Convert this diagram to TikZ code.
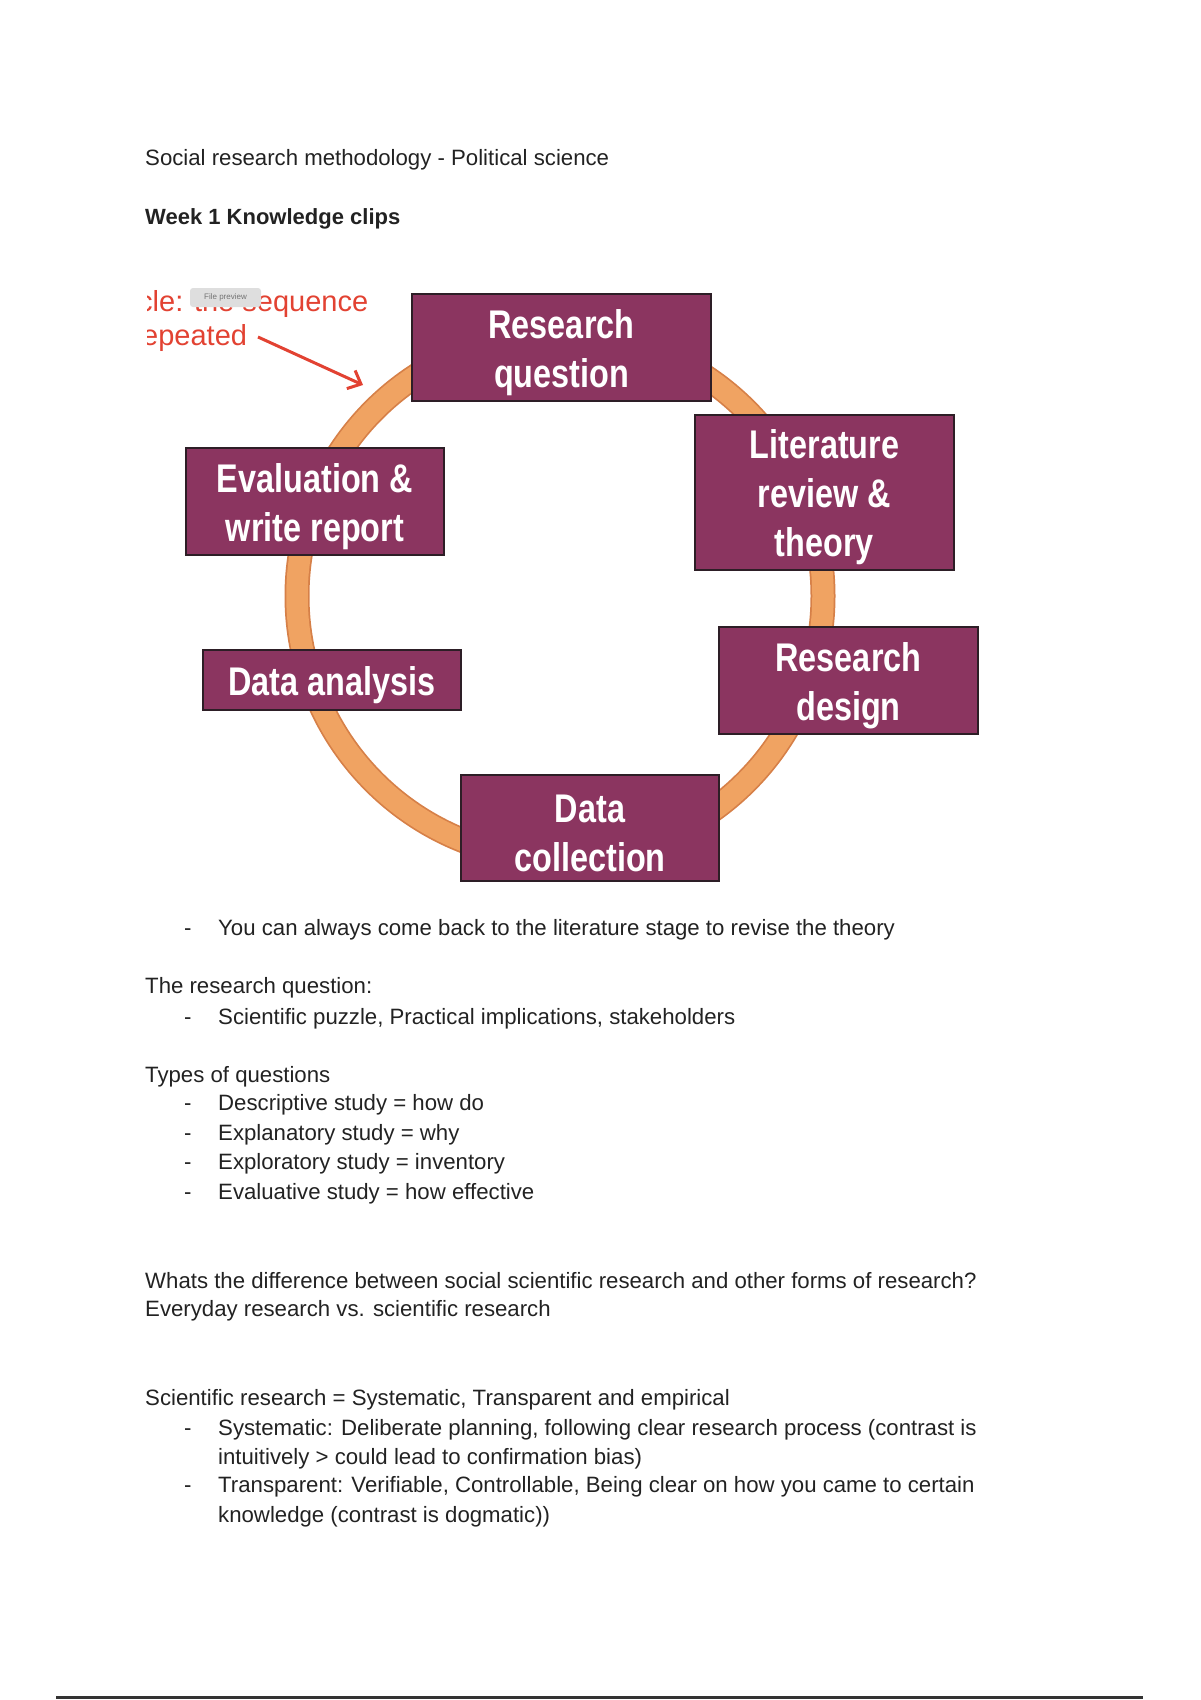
\documentclass[tikz,border=0pt]{standalone}
\usepackage{fontspec}
\setmainfont{Liberation Sans}
\newfontfamily\stagefont{Liberation Sans}[FakeStretch=0.81]
\usetikzlibrary{arrows.meta}

\definecolor{stageplum}{RGB}{139,53,96}
\definecolor{stageedge}{RGB}{45,30,38}
\definecolor{cycleorange}{RGB}{240,163,98}
\definecolor{cycleedge}{RGB}{214,128,72}
\definecolor{notered}{RGB}{226,66,50}
\definecolor{bodytext}{RGB}{34,34,34}

\tikzset{
  stagebox/.style={draw=stageedge, line width=1.5pt, fill=stageplum, inner sep=0pt},
  stagetext/.style={text=white, inner sep=0pt, align=center, yshift=-5pt,
    font=\stagefont\bfseries\fontsize{40}{49}\selectfont},
  bodyline/.style={anchor=base west, inner sep=0pt, text=bodytext, font=\fontsize{22.2}{26}\selectfont},
  notetext/.style={anchor=base west, inner sep=0pt, text=notered, font=\fontsize{29}{33}\selectfont},
}

\begin{document}
\begin{tikzpicture}[x=1pt,y=1pt,yscale=-1,xscale=1]
\useasboundingbox (0,0) rectangle (1200,1700);

% Text Node
\node[bodyline] (title) at (145,165) {Social research methodology - Political science};
% Text Node
\node[bodyline,font=\bfseries\fontsize{22}{26}\selectfont] (week) at (145,224) {Week 1 Knowledge clips};

%Shape: Circle [cycle ring]
\draw[cycleedge, line width=25pt] (560,596) circle [radius=263pt];
\draw[cycleorange, line width=21.5pt] (560,596) circle [radius=263pt];

%Shape: Rectangle [stages]
\node[stagebox, minimum width=299pt, minimum height=107pt] (rq) at (561.5,347.5) {};
\node[stagetext] (rqtext) at (rq) {Research\\question};
\node[stagebox, minimum width=259pt, minimum height=155pt] (lit) at (824.5,492.5) {};
\node[stagetext] (littext) at (lit) {Literature\\review \&\\theory};
\node[stagebox, minimum width=259pt, minimum height=107pt] (design) at (848.5,680.5) {};
\node[stagetext] (designtext) at (design) {Research\\design};
\node[stagebox, minimum width=258pt, minimum height=106pt] (collect) at (590,828) {};
\node[stagetext] (collecttext) at (collect) {Data\\collection};
\node[stagebox, minimum width=258pt, minimum height=60pt] (analysis) at (332,680) {};
\node[stagetext] (analysistext) at (analysis) {Data analysis};
\node[stagebox, minimum width=258pt, minimum height=107pt] (report) at (315,501.5) {};
\node[stagetext] (reporttext) at (report) {Evaluation \&\\write report};

% Text Node [cut off at the left]
\begin{scope}
\clip (147,260) rectangle (420,370);
\node[notetext] (cyclenote) at (138,311) {cle: the sequence};
\node[notetext] (repeatnote) at (142,345) {epeated};
\end{scope}
% Text Node
\node[fill=black!13, rounded corners=3pt, minimum width=71pt, minimum height=19pt, inner sep=0pt,
  text=black!55, font=\fontsize{8}{9}\selectfont] (badge) at (225.5,297.5) {File preview};

%Straight Lines [red arrow]
\coordinate (arrowtail) at (258,337);
\coordinate (arrowtip) at (363,385);
\draw[notered, line width=3pt, -{Straight Barb[length=11pt,width=20pt]}] (arrowtail) -- (arrowtip);

% Text Node
\node[bodyline] (dash1) at (184,935) {-};
\node[bodyline] (back) at (218,935) {You can always come back to the literature stage to revise the theory};
% Text Node
\node[bodyline] (rqhead) at (145,993) {The research question:};
\node[bodyline] (dash2) at (184,1024) {-};
\node[bodyline] (puzzle) at (218,1024) {Scientific puzzle, Practical implications, stakeholders};
% Text Node
\node[bodyline] (typeshead) at (145,1082) {Types of questions};
\node[bodyline] (dash3) at (184,1110) {-};
\node[bodyline] (descr) at (218,1110) {Descriptive study = how do};
\node[bodyline] (dash4) at (184,1140) {-};
\node[bodyline] (expl) at (218,1140) {Explanatory study = why};
\node[bodyline] (dash5) at (184,1169) {-};
\node[bodyline] (explor) at (218,1169) {Exploratory study = inventory};
\node[bodyline] (dash6) at (184,1199) {-};
\node[bodyline] (evalu) at (218,1199) {Evaluative study = how effective};
% Text Node
\node[bodyline] (whats) at (145,1288) {Whats the difference between social scientific research and other forms of research?};
\node[bodyline] (everyday) at (145,1316) {Everyday research vs. scientific research};
% Text Node
\node[bodyline] (scihead) at (145,1405) {Scientific research = Systematic, Transparent and empirical};
\node[bodyline] (dash7) at (184,1435) {-};
\node[bodyline] (syst) at (218,1435) {Systematic: Deliberate planning, following clear research process (contrast is};
\node[bodyline] (syst2) at (218,1464) {intuitively > could lead to confirmation bias)};
\node[bodyline] (dash8) at (184,1492) {-};
\node[bodyline] (transp) at (218,1492) {Transparent: Verifiable, Controllable, Being clear on how you came to certain};
\node[bodyline] (transp2) at (218,1522) {knowledge (contrast is dogmatic))};

%Straight Lines [page foot]
\draw[black!80, line width=3pt] (56,1697) -- (1143,1697);

\end{tikzpicture}
\end{document}
